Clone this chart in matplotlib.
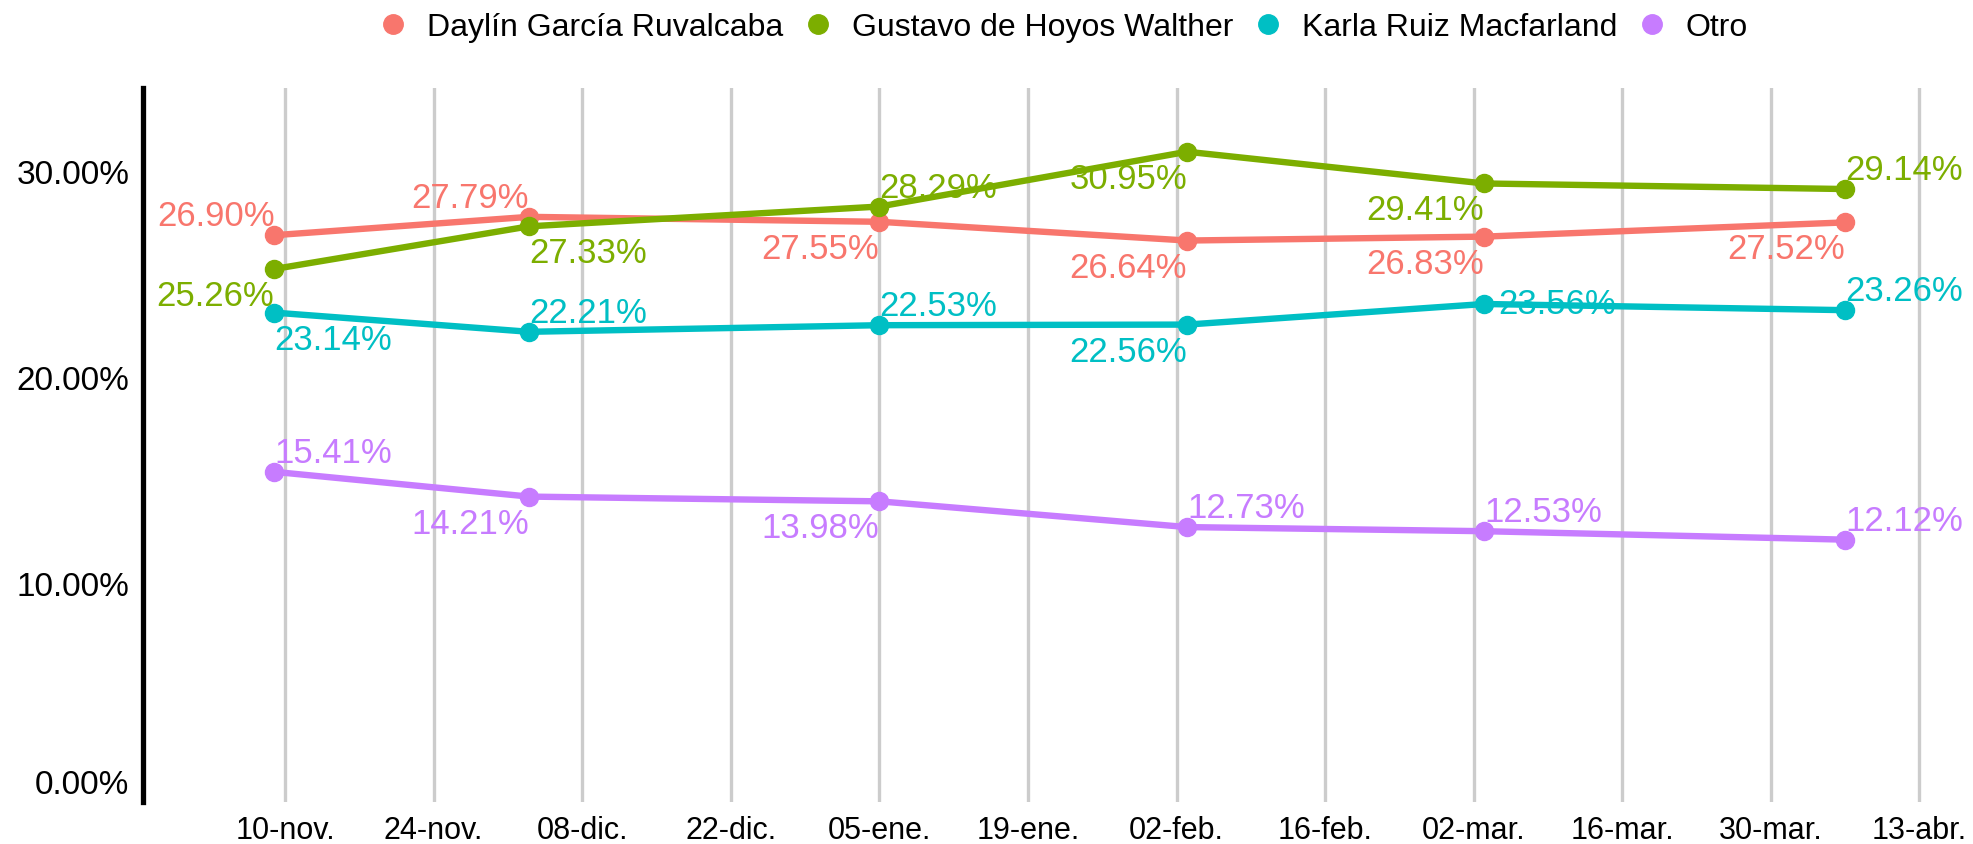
import matplotlib
matplotlib.use("Agg")
import matplotlib.pyplot as plt
from matplotlib.lines import Line2D
from matplotlib.ticker import FuncFormatter
import matplotlib.transforms as mtransforms
import matplotlib.dates as mdates
import pandas as pd

plt.rcParams['font.family'] = ['Liberation Sans', 'DejaVu Sans']

# ---------- data ----------
fechas = pd.to_datetime(["2022-11-09", "2022-12-03", "2023-01-05",
                         "2023-02-03", "2023-03-03", "2023-04-06"])
candidatos = ["Daylín García Ruvalcaba", "Gustavo de Hoyos Walther",
              "Karla Ruiz Macfarland", "Otro"]
daylin  = [26.90, 27.79, 27.55, 26.64, 26.83, 27.52]
gustavo = [25.26, 27.33, 28.29, 30.95, 29.41, 29.14]
karla   = [23.14, 22.21, 22.53, 22.56, 23.56, 23.26]
otro    = [15.41, 14.21, 13.98, 12.73, 12.53, 12.12]
series = [daylin, gustavo, karla, otro]

y_ticks = [0, 10, 20, 30]
MESES = {1: "ene", 2: "feb", 3: "mar", 4: "abr", 11: "nov", 12: "dic"}

# styling / label placement (r/l = side of point, a/b/c = above/below/centre)
colores = ["#F8766D", "#7CAE00", "#00BFC4", "#C77CFF"]
pos = [["ra", "ra", "rb", "rb", "rb", "rb"],
       ["rb", "lb", "la", "rb", "rb", "la"],
       ["lb", "la", "la", "rb", "lc", "la"],
       ["la", "rb", "rb", "la", "la", "la"]]

# ---------- figure ----------
W, H = 1974, 845
fig = plt.figure(figsize=(W / 100, H / 100), dpi=100)
L, R, T, B = 143.3, 1965, 89.3, 803.3
ax = fig.add_axes([L / W, 1 - B / H, (R - L) / W, (B - T) / H])

for vals, col, name, pp in zip(series, colores, candidatos, pos):
    ax.plot(fechas, vals, color=col, lw=4.6, solid_capstyle="round", zorder=3)
    ax.plot(fechas, vals, "o", color=col, ms=13, zorder=4)
    for x, v, p in zip(fechas, vals, pp):
        ha = "right" if p[0] == "r" else "left"
        if p[1] == "a":
            va, dy = "baseline", 10
        elif p[1] == "b":
            va, dy = "top", -10
        else:
            va, dy = "center", 0
        dx = 14 if p[1] == "c" else 0
        ax.annotate(f"{v:.2f}%", (mdates.date2num(x), v), xytext=(dx, dy),
                    textcoords="offset pixels", ha=ha, va=va, color=col,
                    fontsize=25, zorder=5)

# axes
x0 = pd.Timestamp("2022-11-10")
ax.set_xlim(x0 - pd.Timedelta(days=13.36), x0 + pd.Timedelta(days=158.3))
ax.set_ylim(-0.63, 34.03)
xt = pd.date_range("2022-11-10", "2023-04-13", freq="14D")
ax.set_xticks(xt)
ax.xaxis.set_major_formatter(FuncFormatter(
    lambda v, _: (lambda d: f"{d.day:02d}-{MESES[d.month]}.")(mdates.num2date(v))))
ax.set_yticks(y_ticks)
ax.yaxis.set_major_formatter(FuncFormatter(lambda v, _: f"{v:.2f}%"))
ax.tick_params(axis="y", length=0, pad=10, labelsize=24, labelcolor="black")
ax.tick_params(axis="x", length=0, pad=9, labelsize=22, labelcolor="black")

# the bottom label sits a little higher in the reference
t0 = ax.yaxis.get_major_ticks()[0].label1
t0.set_transform(t0.get_transform() +
                 mtransforms.ScaledTranslation(0, 8.5 / 100, fig.dpi_scale_trans))

ax.grid(axis="x", color="#CCCCCC", lw=2.4)
ax.grid(axis="y", visible=False)
ax.set_axisbelow(True)
for s in ["top", "right", "bottom"]:
    ax.spines[s].set_visible(False)
ax.spines["left"].set_linewidth(3.8)
ax.spines["left"].set_color("black")

# legend
handles = [Line2D([], [], marker="o", ls="none", color=c, ms=14) for c in colores]
fig.legend(handles, candidatos, loc="center", bbox_to_anchor=(0.539, 1 - 28 / H),
           ncol=4, frameon=False, fontsize=23, handlelength=0.8,
           handletextpad=0.66, columnspacing=0.69, borderpad=0)

fig.savefig("out.png", dpi=100)
